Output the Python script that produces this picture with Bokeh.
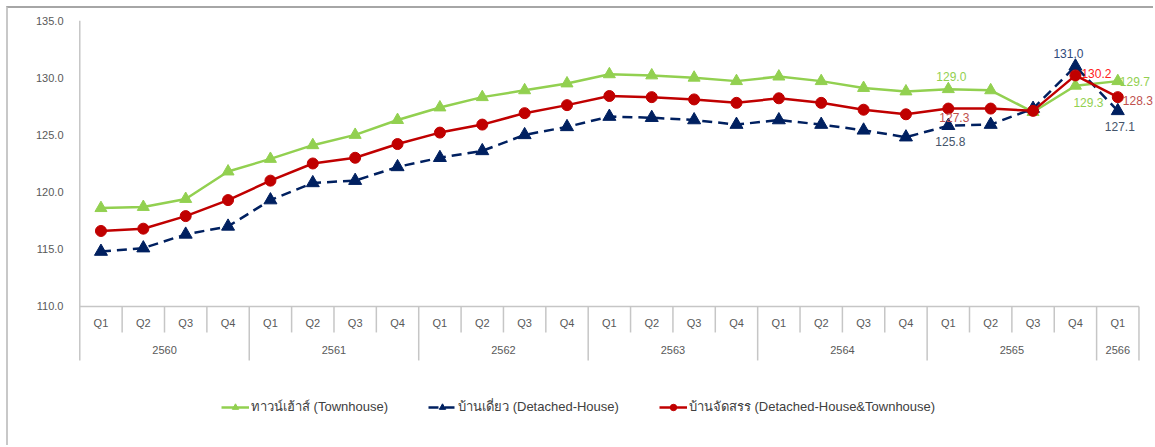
from bokeh.plotting import figure
from bokeh.models import (Range1d, FixedTicker, NumeralTickFormatter, ColumnDataSource,
                          Legend, LegendItem)
from bokeh.core.properties import value
from bokeh.embed import file_html
from bokeh.resources import INLINE

# ---------------- data ----------------
years = ["2560", "2561", "2562", "2563", "2564", "2565", "2566"]
quarters_per_year = [4, 4, 4, 4, 4, 4, 1]
quarter_names = ["Q1", "Q2", "Q3", "Q4"]

townhouse = [118.6, 118.7, 119.4, 121.8,
             122.9, 124.1, 125.0, 126.3,
             127.4, 128.3, 128.9, 129.5,
             130.3, 130.2, 130.0, 129.7,
             130.1, 129.7, 129.1, 128.8,
             129.0, 128.9, 127.0, 129.3,
             129.7]
detached = [114.8, 115.1, 116.3, 117.0,
            119.3, 120.8, 121.0, 122.2,
            123.0, 123.6, 125.0, 125.7,
            126.6, 126.5, 126.3, 125.9,
            126.3, 125.9, 125.4, 124.8,
            125.8, 125.9, 127.3, 131.0,
            127.1]
combined = [116.6, 116.8, 117.9, 119.3,
            121.0, 122.5, 123.0, 124.2,
            125.2, 125.9, 126.9, 127.6,
            128.4, 128.3, 128.1, 127.8,
            128.2, 127.8, 127.2, 126.8,
            127.3, 127.3, 127.1, 130.2,
            128.3]

series_names = ["ทาวน์เฮ้าส์ (Townhouse)",
                "บ้านเดี่ยว (Detached-House)",
                "บ้านจัดสรร (Detached-House&Townhouse)"]

y_ticks = [110, 115, 120, 125, 130, 135]

# indices of points that carry data labels
labelled_idx = [20, 23, 24]

# ---------------- derived category positions ----------------
q_labels = []
for y, n in zip(years, quarters_per_year):
    q_labels += quarter_names[:n]
n_cat = len(q_labels)
xs = list(range(n_cat))

FONT = "Liberation Sans"
GRAY = "#595959"
AX = "#c6c6c6"

p = figure(width=1147, height=439,
           x_range=Range1d(-0.53, 24.89), y_range=Range1d(97.67, 135),
           output_backend="svg", toolbar_location=None,
           x_axis_location=None,
           min_border_left=70, min_border_top=12, min_border_right=0, min_border_bottom=0)
p.styles = {"margin-left": "6px", "margin-top": "6px",
            "border-left": "2px solid #c8c8c8", "border-top": "2px solid #a6a6a6"}
p.outline_line_color = None
p.grid.visible = False
p.background_fill_color = "white"
p.border_fill_color = "white"

yax = p.yaxis[0]
yax.ticker = FixedTicker(ticks=y_ticks)
yax.formatter = NumeralTickFormatter(format="0.0")
yax.axis_line_color = None
yax.major_tick_line_color = None
yax.minor_tick_line_color = None
yax.major_tick_out = 0
yax.major_tick_in = 0
yax.major_label_standoff = 15
yax.major_label_text_font = FONT
yax.major_label_text_font_size = "11px"
yax.major_label_text_color = GRAY

# ---------------- custom category axis ----------------
y0 = y_ticks[0]
y_q = y0 - 26 / 11.44
y_yr = y0 - 54 / 11.44
# y axis line and horizontal base line
p.segment(x0=[-0.5], y0=[y_yr], x1=[-0.5], y1=[y_ticks[-1]], line_color=AX, line_width=1.5)
p.segment(x0=[-0.5], y0=[y0], x1=[n_cat - 0.5], y1=[y0], line_color=AX, line_width=1.5)
# separators
year_bounds = [0]
for n in quarters_per_year:
    year_bounds.append(year_bounds[-1] + n)
q_sep = [k - 0.5 for k in range(1, n_cat) if k not in year_bounds]
y_sep = [k - 0.5 for k in year_bounds[1:]]
p.segment(x0=q_sep, y0=[y0] * len(q_sep), x1=q_sep, y1=[y_q] * len(q_sep),
          line_color=AX, line_width=1.5)
p.segment(x0=y_sep, y0=[y0] * len(y_sep), x1=y_sep, y1=[y_yr] * len(y_sep),
          line_color=AX, line_width=1.5)
# quarter labels
p.text(x=xs, y=[y0 - 17 / 11.44] * n_cat, text=q_labels, text_align="center",
       text_baseline="middle", text_font=value(FONT), text_font_size="11px",
       text_color=GRAY)
# year labels
yr_centers = [(year_bounds[i] + year_bounds[i + 1] - 1) / 2 for i in range(len(years))]
p.text(x=yr_centers, y=[y0 - 44 / 11.44] * len(years), text=years, text_align="center",
       text_baseline="middle", text_font=value(FONT), text_font_size="11px",
       text_color=GRAY)

# ---------------- series ----------------
GREEN = "#92D050"
NAVY = "#002060"
RED = "#C00000"

l1 = p.line(xs, townhouse, line_color=GREEN, line_width=2.5)
m1 = p.scatter(xs, townhouse, marker="triangle", size=12, fill_color=GREEN, line_color=GREEN)
l2 = p.line(xs, detached, line_color=NAVY, line_width=2.5, line_dash="10 6")
m2 = p.scatter(xs, detached, marker="triangle", size=13, fill_color=NAVY, line_color=NAVY)
l3 = p.line(xs, combined, line_color=RED, line_width=2.5)
m3 = p.scatter(xs, combined, marker="circle", size=11, fill_color=RED, line_color=RED)

# ---------------- data labels ----------------
def add_labels(vals, xoff, yoff, colors):
    src = ColumnDataSource(dict(
        x=[xs[i] for i in labelled_idx],
        y=[vals[i] for i in labelled_idx],
        t=["%.1f" % vals[i] for i in labelled_idx],
        xo=xoff, yo=yoff, c=colors))
    p.text(x="x", y="y", text="t", x_offset="xo", y_offset="yo", text_color="c",
           source=src, text_align="center", text_baseline="middle",
           text_font=value(FONT), text_font_size="12px")

add_labels(townhouse, [3, 13, 17], [-13, 17, 0], [GREEN, GREEN, GREEN])
add_labels(detached, [2, -7, 2], [16, -13, 16], ["#44546A", "#2F4A7A", "#44546A"])
add_labels(combined, [6, 21, 20], [9, -2, 3], ["#C0504D", "#FF2020", "#C0504D"])

# ---------------- legend ----------------
legend = Legend(items=[
    LegendItem(label=series_names[0], renderers=[l1, m1]),
    LegendItem(label=series_names[1], renderers=[l2, m2]),
    LegendItem(label=series_names[2], renderers=[l3, m3]),
], orientation="horizontal", location=(143, 30))
legend.border_line_color = None
legend.background_fill_alpha = 0
legend.label_text_font = FONT
legend.label_text_font_size = "13px"
legend.label_text_color = "#404040"
legend.glyph_width = 28
legend.glyph_height = 16
legend.label_height = 16
legend.label_standoff = 2
legend.spacing = 40
legend.padding = 0
legend.margin = 0
p.add_layout(legend)

open("out.html", "w").write(file_html(p, INLINE))
